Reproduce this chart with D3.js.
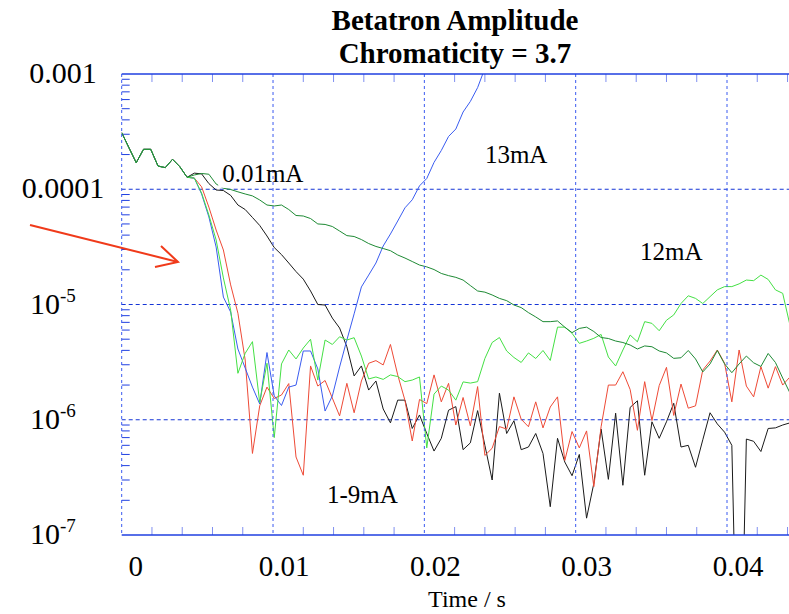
<!DOCTYPE html>
<html>
<head>
<meta charset="utf-8">
<script src="https://cdn.jsdelivr.net/npm/d3@7"></script>
<style>
  html, body { margin: 0; padding: 0; background: #fff; }
  svg { display: block; }
  text { font-family: "Liberation Serif", "DejaVu Serif", serif; fill: #000; }
</style>
</head>
<body>
<svg id="chart" width="789" height="614"></svg>
<script>
// Sampling interval of the turn-by-turn amplitude record (s)
const dt = 0.00048;

// First samples, identical for every beam current
const commonStart = [3.1e-4, 2.29e-4, 1.70e-4, 2.22e-4, 2.22e-4, 1.59e-4, 1.54e-4, 1.82e-4, 1.57e-4, 1.27e-4];

// 0.01 mA : slow decoherence
const amp001mA = commonStart.concat([
  1.33e-4, 1.37e-4, 1.35e-4, 1.11e-4, 1.02e-4, 9.95e-5, 9.5e-5, 9.1e-5, 8.76e-5, 8.07e-5,
  7.3e-5, 7.16e-5, 7.3e-5, 6.67e-5, 5.92e-5, 5.86e-5, 5.57e-5, 5.0e-5, 4.95e-5, 4.75e-5,
  4.34e-5, 3.96e-5, 3.89e-5, 3.66e-5, 3.38e-5, 3.19e-5, 3.06e-5, 2.93e-5, 2.69e-5, 2.53e-5,
  2.36e-5, 2.2e-5, 2.12e-5, 2.01e-5, 1.86e-5, 1.78e-5, 1.72e-5, 1.63e-5, 1.46e-5, 1.31e-5,
  1.28e-5, 1.21e-5, 1.13e-5, 1.08e-5, 9.9e-6, 9.4e-6, 8.5e-6, 7.8e-6, 7.1e-6, 7.1e-6,
  7.2e-6, 6.36e-6, 5.7e-6, 6.2e-6, 6.36e-6, 5.83e-6, 5.17e-6, 5.07e-6, 4.82e-6, 4.68e-6,
  4.45e-6, 4.11e-6, 4.37e-6, 4.3e-6, 3.95e-6, 3.8e-6, 3.41e-6, 3.45e-6, 3.99e-6, 3.37e-6,
  2.6e-6, 3.05e-6, 3.99e-6, 3.05e-6, 2.56e-6, 3.05e-6, 3.57e-6, 3.12e-6, 2.9e-6, 3.76e-6,
  3.14e-6, 2.3e-6, 1.71e-6
]);

// intermediate current (black)
const ampBlack = commonStart.concat([
  1.38e-4, 1.36e-4, 1.12e-4, 9.85e-5, 9.75e-5, 8.85e-5, 7.3e-5, 6.67e-5, 5.69e-5, 4.85e-5,
  3.93e-5, 3.12e-5, 2.71e-5, 2.29e-5, 1.93e-5, 1.66e-5, 1.31e-5, 1.0e-5, 9.9e-6, 7.62e-6,
  6.25e-6, 4.3e-6, 2.4e-6, 2.93e-6, 1.81e-6, 2.17e-6, 1.24e-6, 9.4e-7, 1.48e-6, 1.48e-6,
  8.4e-7, 1.1e-6, 7.6e-7, 5.35e-7, 6.9e-7, 1.21e-6, 1.3e-6, 5.5e-7, 6.3e-7, 1.2e-6,
  6.0e-7, 3.0e-7, 1.7e-6, 7.6e-7, 9.8e-7, 5.5e-7, 5.8e-7, 7.6e-7, 5.1e-7, 1.76e-7,
  6.9e-7, 4.3e-7, 3.27e-7, 5.0e-7, 1.4e-7, 2.8e-7, 8.3e-7, 3.04e-7, 1.14e-6, 2.7e-7,
  1.28e-6, 1.46e-6, 3.3e-7, 9.6e-7, 6.9e-7, 9.6e-7, 1.39e-6, 5.8e-7, 6.0e-7, 3.87e-7,
  6.7e-7, 1.15e-6, 9.2e-7, 7.8e-7, 6.0e-7, 1e-9, 6.8e-7, 6.5e-7, 5.3e-7, 8.4e-7,
  8.5e-7, 9.0e-7, 9.4e-7
]);

// 12 mA (light green)
const amp12mA = commonStart.concat([
  1.25e-4, 9.27e-5, 5.98e-5, 3.63e-5, 1.7e-5, 8.95e-6, 2.53e-6, 3.77e-6, 4.76e-6, 1.41e-6,
  3.09e-6, 7.0e-7, 3.05e-6, 4.03e-6, 3.37e-6, 4.19e-6, 4.99e-6, 2.21e-6, 4.92e-6, 4.5e-6,
  5.25e-6, 4.92e-6, 5.15e-6, 3.57e-6, 2.26e-6, 2.35e-6, 2.24e-6, 2.45e-6, 2.37e-6, 2.14e-6,
  2.21e-6, 2.35e-6, 5.7e-7, 1.67e-6, 1.96e-6, 1.81e-6, 1.48e-6, 2.13e-6, 2.08e-6, 2.14e-6,
  3.4e-6, 4.68e-6, 5.17e-6, 3.95e-6, 3.47e-6, 3.14e-6, 3.8e-6, 3.4e-6, 3.99e-6, 3.27e-6,
  6.36e-6, 6.36e-6, 5.63e-6, 4.6e-6, 4.82e-6, 5.09e-6, 5.5e-6, 3.5e-6, 2.93e-6, 4.03e-6,
  5.43e-6, 4.75e-6, 7.1e-6, 6.86e-6, 5.92e-6, 7.3e-6, 8.12e-6, 1.02e-5, 1.19e-5, 1.13e-5,
  1.02e-5, 1.17e-5, 1.34e-5, 1.43e-5, 1.43e-5, 1.51e-5, 1.63e-5, 1.61e-5, 1.8e-5, 1.65e-5,
  1.34e-5, 1.25e-5, 6.63e-6
]);

// 1-9 mA (red)
const amp1to9mA = commonStart.concat([
  1.25e-4, 1.05e-4, 7.0e-5, 4.43e-5, 2.97e-5, 1.48e-5, 8.4e-6, 3.3e-6, 5.1e-7, 1.32e-6,
  1.92e-6, 1.53e-6, 1.64e-6, 2.06e-6, 4.75e-7, 3.3e-7, 2.93e-6, 1.96e-6, 2.19e-6, 1.54e-6,
  1.08e-6, 2.07e-6, 1.15e-6, 2.17e-6, 3.09e-6, 3.26e-6, 2.99e-6, 4.5e-6, 2.45e-6, 1.47e-6,
  6.54e-7, 1.5e-6, 1.38e-6, 2.45e-6, 1.43e-6, 2.07e-6, 9.0e-7, 1.56e-6, 8.85e-7, 1.94e-6,
  4.9e-7, 5.66e-7, 8.72e-7, 8.3e-7, 1.58e-6, 1.01e-6, 8.7e-7, 1.43e-6, 8.5e-7, 1.29e-6,
  1.58e-6, 4.43e-7, 7.9e-7, 5.7e-7, 8.0e-7, 2.63e-7, 8.7e-7, 2.0e-6, 2.0e-6, 2.61e-6,
  1.83e-6, 8.1e-7, 2.14e-6, 9.85e-7, 1.98e-6, 2.85e-6, 1.09e-6, 2.04e-6, 1.26e-6, 1.32e-6,
  2.7e-6, 3.23e-6, 4.03e-6, 3.09e-6, 1.43e-6, 4.03e-6, 1.96e-6, 1.58e-6, 2.89e-6, 1.88e-6,
  2.89e-6, 2.0e-6, 2.35e-6
]);

// 13 mA (blue): unstable, grows out of range
const amp13mA = commonStart.concat([
  1.25e-4, 9.1e-5, 5.75e-5, 3.15e-5, 1.16e-5, 8.6e-6, 4.11e-6, 2.81e-6, 1.92e-6, 1.37e-6,
  3.83e-6, 1.61e-6, 1.33e-6, 1.92e-6, 2.0e-6, 3.95e-6, 3.95e-6, 2.76e-6, 1.19e-6, 1.61e-6,
  2.87e-6, 4.92e-6, 8.3e-6, 1.42e-5, 1.8e-5, 2.29e-5, 3.22e-5, 4.09e-5, 5.3e-5, 6.9e-5,
  8.1e-5, 1.07e-4, 1.24e-4, 1.71e-4, 2.17e-4, 2.87e-4, 3.33e-4, 4.68e-4, 5.78e-4, 7.62e-4,
  1.12e-3
]);

// Axis ticks
const xTickValues = [0, 0.01, 0.02, 0.03, 0.04];
const xTickLabels = ["0", "0.01", "0.02", "0.03", "0.04"];
const yTickValues = [1e-3, 1e-4, 1e-5, 1e-6, 1e-7];
const yTickLabels = ["0.001", "0.0001", "10|-5", "10|-6", "10|-7"];

// Curve annotations (time, amplitude of the text baseline start)
const annotations = [
  { text: "0.01mA", t: 0.00664, v: 1.16e-4, boxed: true },
  { text: "13mA", t: 0.0240, v: 1.69e-4 },
  { text: "12mA", t: 0.03425, v: 2.43e-5 },
  { text: "1-9mA", t: 0.01357, v: 1.9e-7 }
];
const arrowFrom = { t: -0.00606, v: 4.9e-5 };
const arrowTo = { t: 0.00372, v: 2.34e-5 };

const svg = d3.select("#chart");
const W = 789;

const x = d3.scaleLinear().domain([0, 0.04]).range([121.7, 727]);
const y = d3.scaleLog().domain([1e-3, 1e-7]).range([74, 535]);
const pL = x(0), pR = W, pT = y(1e-3), pB = y(1e-7);
const defs = svg.append("defs");

defs.append("clipPath").attr("id", "plotClip")
  .append("rect").attr("x", pL).attr("y", pT).attr("width", pR - pL).attr("height", pB - pT);

// Horizontal decade grid
svg.append("g").selectAll("line").data([1e-4, 1e-5, 1e-6]).join("line")
  .attr("x1", pL).attr("x2", pR).attr("y1", d => y(d)).attr("y2", d => y(d))
  .attr("stroke", "#1434d6").attr("stroke-width", 1).attr("stroke-dasharray", "4,3");

// Left minor ticks (2..9 in each decade)
const minorY = [];
[1e-7, 1e-6, 1e-5, 1e-4].forEach(dec => { for (let m = 2; m <= 9; m++) minorY.push(dec * m); });
svg.append("g").selectAll("line").data(minorY).join("line")
  .attr("x1", pL).attr("x2", pL + 8).attr("y1", d => y(d)).attr("y2", d => y(d))
  .attr("stroke", "#1f3fe0").attr("stroke-width", 1);

// Top / bottom minor ticks every 2 ms
const minorX = d3.range(1, 23).map(k => k * 0.002).filter(d => Math.abs(d / 0.01 - Math.round(d / 0.01)) > 1e-6);
const tickG = svg.append("g").attr("stroke", "#7f8ff0").attr("stroke-width", 1);
tickG.selectAll(".tb").data(minorX).join("line").attr("class", "tb")
  .attr("x1", d => x(d)).attr("x2", d => x(d)).attr("y1", pB).attr("y2", pB - 8);
tickG.selectAll(".tt").data(minorX).join("line").attr("class", "tt")
  .attr("x1", d => x(d)).attr("x2", d => x(d)).attr("y1", pT).attr("y2", pT + 8);

// Curve labels; the 0.01 mA one sits on a white box
const boxG = svg.append("g");
const annG = svg.append("g");
let box = null;
annotations.forEach(a => {
  const tx = annG.append("text").attr("x", x(a.t)).attr("y", y(a.v))
    .attr("font-size", 25).text(a.text);
  if (a.boxed) {
    const b = tx.node().getBBox();
    box = { x: b.x - 4, y: b.y - 1, w: b.width + 10, h: b.height + 2 };
    boxG.append("rect").attr("x", box.x).attr("y", box.y)
      .attr("width", box.w).attr("height", box.h).attr("fill", "#fff");
  }
});

// the 0.01 mA trace passes behind its label box
defs.append("clipPath").attr("id", "greenClip")
  .append("path").attr("clip-rule", "evenodd")
  .attr("d", `M${pL},${pT}H${pR}V${pB}H${pL}Z M${box.x},${box.y}h${box.w}v${box.h}h${-box.w}Z`);

const line = d3.line().x((d, i) => x(i * dt)).y(d => y(d));
const plot = svg.append("g").attr("clip-path", "url(#plotClip)").attr("fill", "none").attr("stroke-width", 1);
function drawSeries(g, values, color) {
  g.append("path").datum(values).attr("d", line).attr("stroke", color).attr("stroke-linejoin", "round");
}
drawSeries(plot, ampBlack, "#1a1a1a");
drawSeries(plot, amp1to9mA, "#ee4a36");
drawSeries(plot, amp13mA, "#3a5cf0");
drawSeries(plot, amp12mA, "#44e044");
const plotG = svg.append("g").attr("clip-path", "url(#greenClip)").attr("fill", "none").attr("stroke-width", 1);
drawSeries(plotG, amp001mA, "#1e8a34");

// Vertical grid at every 10 ms
svg.append("g").selectAll("line").data(xTickValues).join("line")
  .attr("x1", d => x(d)).attr("x2", d => x(d)).attr("y1", pT).attr("y2", pB)
  .attr("stroke", "#3a5af0").attr("stroke-width", 1).attr("stroke-dasharray", "3,3");

// Frame top and bottom
svg.append("g").selectAll("line").data([pT, pB]).join("line")
  .attr("x1", pL).attr("x2", pR).attr("y1", d => d).attr("y2", d => d)
  .attr("stroke", "#1f3fe0").attr("stroke-width", 1.6);

annG.raise();

// Tick labels
svg.append("g").selectAll("text").data(xTickValues).join("text")
  .attr("x", (d, i) => x(d) + (i === 0 ? 14 : 11)).attr("y", pB + 41)
  .attr("text-anchor", "middle").attr("font-size", 29)
  .text((d, i) => xTickLabels[i]);

const yl = svg.append("g");
yTickValues.forEach((v, i) => {
  const lab = yTickLabels[i];
  if (lab.includes("|")) {
    const [base, exp] = lab.split("|");
    const t = yl.append("text").attr("x", 30).attr("y", y(v) + 9).attr("font-size", 30);
    t.append("tspan").text(base);
    t.append("tspan").attr("font-size", 19).attr("dy", -12).text(exp);
  } else {
    yl.append("text").attr("x", 63).attr("y", y(v) + 9).attr("text-anchor", "middle")
      .attr("font-size", 30).text(lab);
  }
});

// Titles
svg.append("text").attr("x", 455).attr("y", 30).attr("text-anchor", "middle")
  .attr("font-size", 29).attr("font-weight", "bold").text("Betatron Amplitude");
svg.append("text").attr("x", 455).attr("y", 63).attr("text-anchor", "middle")
  .attr("font-size", 29).attr("font-weight", "bold").text("Chromaticity = 3.7");
svg.append("text").attr("x", 467).attr("y", 607).attr("text-anchor", "middle")
  .attr("font-size", 24).text("Time / s");

// Red arrow pointing at the onset of the fast decay
const ax0 = x(arrowFrom.t), ay0 = y(arrowFrom.v), ax1 = x(arrowTo.t), ay1 = y(arrowTo.v);
const arrow = svg.append("g").attr("stroke", "#f03a1a").attr("stroke-width", 2).attr("fill", "none");
arrow.append("line").attr("x1", ax0).attr("y1", ay0).attr("x2", ax1).attr("y2", ay1);
arrow.append("polyline").attr("points",
  [[ax1 - 17, ay1 - 16], [ax1, ay1], [ax1 - 23, ay1 + 5]].map(p => p.join(",")).join(" "));
</script>
</body>
</html>
